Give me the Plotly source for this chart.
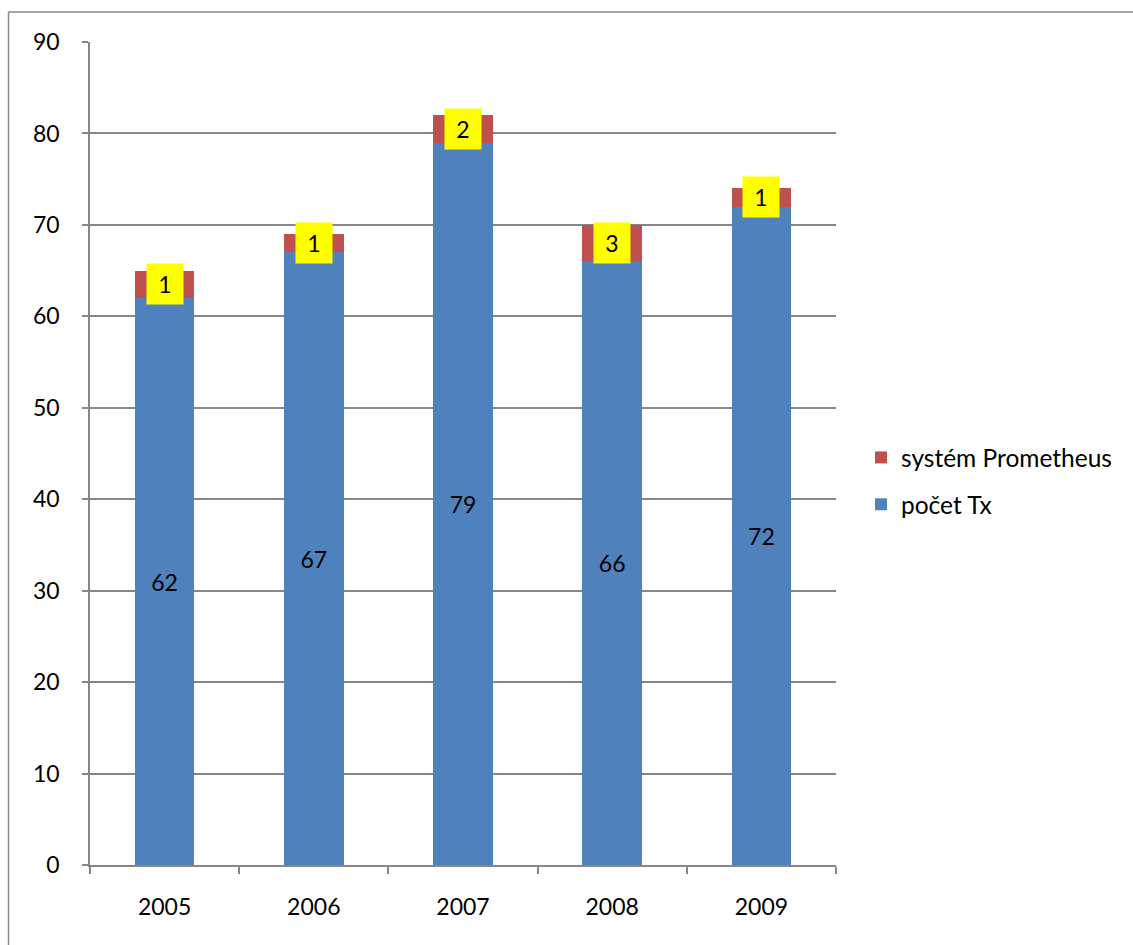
import plotly.graph_objects as go

years = ["2005", "2006", "2007", "2008", "2009"]
pocet_tx = [62, 67, 79, 66, 72]
prometheus = [3, 2, 3, 4, 2]
prometheus_labels = ["1", "1", "2", "3", "1"]

BLUE = "#4F81BD"
RED = "#C0504D"
GRID = "#868686"
FONT = "Lato, 'Open Sans', sans-serif"
FS = 23

fig = go.Figure()
fig.add_trace(go.Bar(
    x=years, y=pocet_tx, name="počet Tx", marker_color=BLUE,
    marker_line_width=0,
    text=[str(v) for v in pocet_tx], textposition="inside",
    insidetextanchor="middle", textfont=dict(color="black", size=FS, family=FONT),
    legendgroup="a", legendrank=2,
))
fig.add_trace(go.Bar(
    x=years, y=prometheus, name="systém Prometheus", marker_color=RED,
    marker_line_width=0, legendgroup="b", legendrank=1,
))

for i, (b, r, lab) in enumerate(zip(pocet_tx, prometheus, prometheus_labels)):
    fig.add_annotation(
        x=i, y=b + r / 2, text=lab, showarrow=False,
        bgcolor="#FFFF00", width=36, height=40, borderpad=0,
        font=dict(color="black", size=FS, family=FONT),
        xanchor="center", yanchor="middle",
    )

L, R, T, B = 90, 836, 42, 865
W, H = 1133, 945
pw, ph = R - L, B - T

def px(xp):
    return (xp - L) / pw

def py(yp):
    return (B - yp) / ph

fig.add_shape(type="line", xref="paper", yref="paper",
              x0=px(8.5), x1=px(1140), y0=py(12), y1=py(12),
              line=dict(color=GRID, width=1.5))
fig.add_shape(type="line", xref="paper", yref="paper",
              x0=px(8.5), x1=px(8.5), y0=py(12), y1=py(950),
              line=dict(color=GRID, width=1.5))

fig.update_layout(
    width=W, height=H,
    margin=dict(l=L, r=W - R, t=T, b=H - B),
    barmode="stack", bargap=0.6,
    plot_bgcolor="white", paper_bgcolor="white",
    font=dict(family=FONT, size=FS, color="black"),
    showlegend=True,
    legend=dict(
        x=px(861), y=py(435), xanchor="left", yanchor="top",
        traceorder="grouped", tracegroupgap=12,
        font=dict(size=24.5, family=FONT, color="black"),
        bgcolor="rgba(0,0,0,0)",
    ),
    xaxis=dict(
        type="category", range=[-0.5, len(years) - 0.5],
        showline=True, linecolor=GRID, linewidth=1.5,
        ticks="outside", tickson="boundaries", ticklen=7, tickcolor=GRID,
        tickwidth=1.5, showgrid=False, ticklabelstandoff=21,
        tickfont=dict(size=FS, family=FONT),
    ),
    yaxis=dict(
        range=[0, 90], dtick=10, showline=True, linecolor=GRID, linewidth=1.5,
        ticks="outside", ticklen=6, tickcolor=GRID, tickwidth=1.5,
        showgrid=True, gridcolor=GRID, gridwidth=1.5, zeroline=False,
        ticklabelstandoff=18, tickfont=dict(size=FS, family=FONT),
    ),
)

fig.write_html("out.html")
